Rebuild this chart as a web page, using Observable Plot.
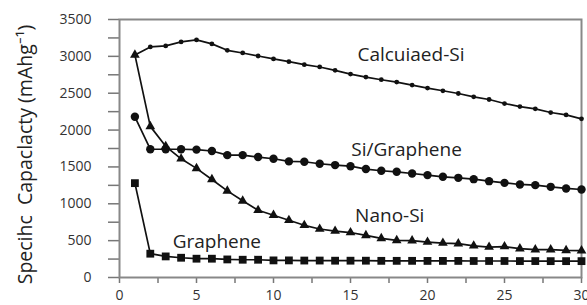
<!DOCTYPE html>
<html>
<head>
<meta charset="utf-8">
<script src="https://cdn.jsdelivr.net/npm/d3@7"></script>
<script src="https://cdn.jsdelivr.net/npm/@observablehq/plot@0.6"></script>
<style>
  html, body { margin: 0; padding: 0; background: #fff; }
  #chart { width: 587px; height: 305px; overflow: hidden; }
</style>
</head>
<body>
<div id="chart"></div>
<script>
const cycles = d3.range(1, 31);
const calcinedSi = [3020, 3128, 3142, 3196, 3223, 3169, 3082, 3046, 3005, 2965, 2928, 2887, 2856, 2810, 2760, 2719, 2683, 2651, 2610, 2570, 2533, 2496, 2451, 2415, 2360, 2319, 2288, 2238, 2206, 2152];
const siGraphene = [2180, 1740, 1740, 1740, 1735, 1716, 1660, 1660, 1634, 1611, 1575, 1570, 1543, 1525, 1510, 1471, 1448, 1434, 1411, 1389, 1366, 1352, 1334, 1307, 1284, 1262, 1253, 1230, 1208, 1194];
const nanoSi = [3020, 2050, 1780, 1610, 1480, 1330, 1175, 1040, 912, 845, 776, 708, 658, 630, 610, 572, 531, 504, 500, 481, 467, 459, 430, 413, 420, 391, 377, 377, 368, 365];
const graphene = [1280, 323, 286, 268, 255, 255, 245, 241, 241, 232, 232, 230, 230, 228, 228, 228, 226, 226, 226, 225, 225, 225, 224, 224, 224, 223, 223, 222, 222, 222];

const seriesNames = ["Calcuiaed-Si", "Si/Graphene", "Nano-Si", "Graphene"];
const seriesValues = [calcinedSi, siGraphene, nanoSi, graphene];
const seriesSymbols = ["circle", "circle", "triangle", "square"];
const seriesR = [2.4, 4.2, 3.6, 4.4];

const labelNames = ["Calcuiaed-Si", "Si/Graphene", "Nano-Si", "Graphene"];
const labelX = [15.45, 15.05, 15.3, 3.45];
const labelY = [3015, 1730, 840, 478];

const yMinorTicks = d3.range(0, 3501, 250);
const yTickLabels = d3.range(0, 3501, 500);
const xMinorTicks = d3.range(0, 30.01, 2.5);
const xTickLabels = d3.range(0, 31, 5);
const yTitle = "Specihc  Capaclacty (mAhg\u207B\u00B9)";

const rows = [];
seriesNames.forEach((name, i) => {
  cycles.forEach((c, j) => rows.push({series: name, cycle: c, value: seriesValues[i][j]}));
});
const labels = labelNames.map((t, i) => ({text: t, x: labelX[i], y: labelY[i]}));

const marks = [
  Plot.axisY({ticks: yMinorTicks, tickSize: 11, text: null, label: null, stroke: "#777", strokeWidth: 1.5}),
  Plot.axisY({ticks: yTickLabels, tickSize: 0, tickPadding: 28, tickFormat: d => String(d), label: null, fontSize: 14, fill: "#333"}),
  Plot.axisX({ticks: xMinorTicks, tickSize: 6, text: null, label: null, stroke: "#777", strokeWidth: 1.5}),
  Plot.axisX({ticks: xTickLabels, tickSize: 0, tickPadding: 13, tickFormat: d => String(d), label: null, fontSize: 14, fill: "#333"}),
  Plot.frame({stroke: "#888", strokeWidth: 2})
];
seriesNames.forEach((name, i) => {
  const d = rows.filter(r => r.series === name);
  marks.push(Plot.line(d, {x: "cycle", y: "value", stroke: "#111", strokeWidth: 1.7}));
  marks.push(Plot.dot(d, {x: "cycle", y: "value", symbol: seriesSymbols[i], r: seriesR[i], fill: "#111", stroke: "none"}));
});
marks.push(Plot.text(labels, {x: "x", y: "y", text: "text", textAnchor: "start", lineAnchor: "middle", fontSize: 19, fill: "#222"}));
marks.push(Plot.text([yTitle], {frameAnchor: "left", text: d => d, rotate: -90, textAnchor: "middle", lineAnchor: "middle", dx: -94, dy: 6, fontSize: 19.5, fill: "#222"}));

const chart = Plot.plot({
  width: 587,
  height: 305,
  marginLeft: 119,
  marginRight: 6,
  marginTop: 19,
  marginBottom: 28,
  x: {domain: [0, 30]},
  y: {domain: [0, 3500]},
  style: {fontFamily: "'Open Sans', sans-serif", fontSize: "14px", color: "#333", background: "#fff", overflow: "visible"},
  marks
});
document.getElementById("chart").appendChild(chart);
</script>
</body>
</html>
